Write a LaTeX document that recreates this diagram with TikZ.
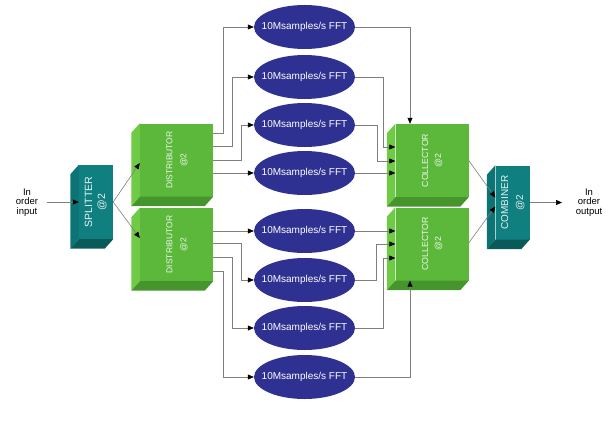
\documentclass[tikz,border=0pt]{standalone}
\usepackage{fontspec}
\setmainfont{Liberation Sans}
\usetikzlibrary{shapes.geometric,arrows.meta,calc}
\definecolor{gfront}{HTML}{5CB83B}
\definecolor{gleft}{HTML}{6FCB45}
\definecolor{gbottom}{HTML}{46952C}
\definecolor{tfront}{HTML}{0F7F7F}
\definecolor{tleft}{HTML}{0C7474}
\definecolor{tbottom}{HTML}{0A5A5A}
\definecolor{fftblue}{HTML}{2E3192}
\definecolor{linegray}{HTML}{7F7F7F}
\newcommand\vlabel[3]{\rotatebox{90}{\fontsize{#1}{#2}\selectfont\begin{tabular}{@{}c@{}}#3\\@2\end{tabular}}}
\newcommand\drawfaces[3]{%
  \fill[#2] (#1.north west) -- (#1.south west) -- ++(-8.5,9.5) -- ($(#1.north west)+(-8.5,9.5)$) -- cycle;
  \fill[#3] (#1.south west) -- (#1.south east) -- ++(-8.5,9.5) -- ($(#1.south west)+(-8.5,9.5)$) -- cycle;}
\begin{document}
\begin{tikzpicture}[x=1pt,y=-1pt,
  conn/.style={draw=linegray, line width=0.6pt, -{Triangle[length=6pt,width=5pt,color=black]}},
  fft/.style={ellipse, fill=fftblue, minimum width=101pt, minimum height=44pt, inner xsep=-8pt, inner ysep=0pt, text=white, font=\fontsize{10}{12}\selectfont},
  gbox/.style={rectangle, fill=gfront, minimum width=73pt, minimum height=73pt, inner sep=0pt, text=white!88!gfront},
  tbox/.style={rectangle, fill=tfront, minimum width=34pt, minimum height=74pt, inner sep=0pt, text=white!90!tfront},
  io/.style={align=center, font=\fontsize{9.5}{9.6}\selectfont, inner sep=0pt}
]
\useasboundingbox (0,0) rectangle (609,420);
% boxes
\node[tbox] (split) at (96,202) {\vlabel{10.5}{13}{SPLITTER}};
\node[gbox] (dist1) at (176.5,160) {\vlabel{8.5}{14}{DISTRIBUTOR}};
\node[gbox] (dist2) at (176.5,244.5) {\vlabel{8.5}{14}{DISTRIBUTOR}};
\node[gbox] (coll1) at (432,160.5) {\vlabel{8.8}{13}{COLLECTOR}};
\node[gbox] (coll2) at (432,244) {\vlabel{8.8}{13}{COLLECTOR}};
\node[tbox] (comb) at (512.5,202.5) {\vlabel{10}{15}{COMBINER}};
\drawfaces{split}{tleft}{tbottom}
\drawfaces{comb}{tleft}{tbottom}
\drawfaces{dist1}{gleft}{gbottom}
\drawfaces{dist2}{gleft}{gbottom}
\drawfaces{coll1}{gleft}{gbottom}
\drawfaces{coll2}{gleft}{gbottom}
% FFT ellipses
\node[fft] (fft1) at (304.5,27) {10Msamples/s FFT};
\node[fft] (fft2) at (304.5,77) {10Msamples/s FFT};
\node[fft] (fft3) at (304.5,125) {10Msamples/s FFT};
\node[fft] (fft4) at (304.5,173) {10Msamples/s FFT};
\node[fft] (fft5) at (304.5,231) {10Msamples/s FFT};
\node[fft] (fft6) at (304.5,280) {10Msamples/s FFT};
\node[fft] (fft7) at (304.5,328) {10Msamples/s FFT};
\node[fft] (fft8) at (304.5,377) {10Msamples/s FFT};
% in / out
\node[io] (intext) at (27,202.5) {In\\order\\input};
\node[io] (outtext) at (589,202.5) {In\\order\\output};
\coordinate (inp) at (47,202);
\coordinate (outp) at (562,202.5);
% connectors
\draw[conn] (inp) -- (split.west |- inp);
\draw[conn] (split.east) -- ($(dist1.west)+(0,3)$);
\draw[conn] (split.east) -- ($(dist2.west)+(0,-6.5)$);
\draw[conn] ($(dist1.east)+(0,-27)$) -- ++(10,0) |- (fft1.west);
\draw[conn] ($(dist1.east)+(0,-14)$) -- ++(19,0) |- (fft2.west);
\draw[conn] (dist1.east) -- ++(28,0) |- (fft3.west);
\draw[conn] ($(dist1.east)+(0,13)$) -- (fft4.west);
\draw[conn] ($(dist2.east)+(0,-13.5)$) -- (fft5.west);
\draw[conn] ($(dist2.east)+(0,-1)$) -- ++(28,0) |- (fft6.west);
\draw[conn] ($(dist2.east)+(0,12.5)$) -- ++(19,0) |- (fft7.west);
\draw[conn] ($(dist2.east)+(0,26.5)$) -- ++(10,0) |- (fft8.west);
\draw[conn] (fft1.east) -| ($(coll1.north)+(-22,0)$);
\draw[conn] (fft2.east) -- ++(28,0) |- ($(coll1.west)+(0,-13.5)$);
\draw[conn] (fft3.east) -- ++(22,0) |- ($(coll1.west)+(0,0.5)$);
\draw[conn] (fft4.east) -- (coll1.west |- fft4.east);
\draw[conn] (fft5.east) -- (coll2.west |- fft5.east);
\draw[conn] (fft6.east) -- ++(21,0) |- (coll2.west);
\draw[conn] (fft7.east) -- ++(28,0) |- ($(coll2.west)+(0,14)$);
\draw[conn] (fft8.east) -| ($(coll2.south)+(-22,0)$);
\draw[conn] (coll1.east) -- ($(comb.west)+(0,-5)$);
\draw[conn] ($(coll2.east)+(0,-1)$) -- ($(comb.west)+(0,4)$);
\draw[conn] (comb.east) -- (outp);
\end{tikzpicture}
\end{document}
